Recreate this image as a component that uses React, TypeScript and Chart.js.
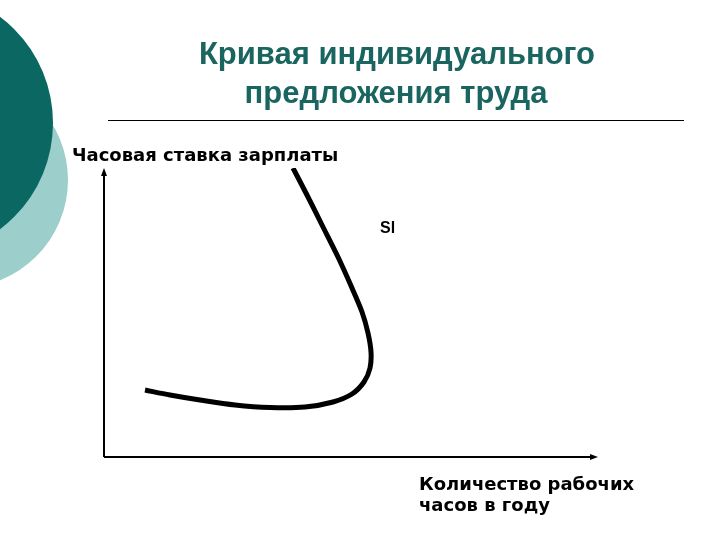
import React, { useEffect, useRef } from "react";
import { Chart, registerables } from "chart.js";

Chart.register(...registerables);

const titleLines = ["Кривая индивидуального", "предложения труда"];
const yAxisLabel = "Часовая ставка зарплаты";
const xAxisLabel = ["Количество рабочих", "часов в году"];
const curveLabel = "Sl";

// Labour supply curve (hours, wage) in relative units 0..100
const hours = [38.26, 41.09, 44.13, 47.37, 50.2, 52.23, 53.44, 54.05, 53.85, 52.63, 50.2, 46.36, 40.69, 33.6, 26.52, 19.43, 13.36, 8.3];
const wage = [100, 90.66, 80.28, 69.2, 58.48, 50.17, 42.91, 36.33, 30.8, 25.95, 21.8, 19.03, 17.3, 17.13, 17.99, 19.72, 21.45, 23.18];
const labelPos = { x: 57.4, y: 79.2 };

const decorPlugin = {
  id: "decor",
  beforeDraw(chart: any) {
    const ctx = chart.ctx as CanvasRenderingContext2D;
    ctx.save();
    ctx.fillStyle = "#ffffff";
    ctx.fillRect(0, 0, chart.width, chart.height);
    // decorative circles
    ctx.fillStyle = "#9ccfcc";
    ctx.beginPath();
    ctx.arc(-40, 180, 108, 0, Math.PI * 2);
    ctx.fill();
    ctx.fillStyle = "#0b6762";
    ctx.beginPath();
    ctx.arc(-80, 123, 133, 0, Math.PI * 2);
    ctx.fill();
    // title
    ctx.fillStyle = "#1a6560";
    ctx.font = "bold 31px 'Liberation Sans', Arial, sans-serif";
    ctx.textAlign = "center";
    ctx.textBaseline = "alphabetic";
    ctx.fillText(titleLines[0], 397, 64);
    ctx.fillText(titleLines[1], 396, 103);
    // separator line
    ctx.strokeStyle = "#000000";
    ctx.lineWidth = 1;
    ctx.beginPath();
    ctx.moveTo(108, 120.5);
    ctx.lineTo(684, 120.5);
    ctx.stroke();
    // axes
    const a = chart.chartArea;
    ctx.lineWidth = 2;
    ctx.beginPath();
    ctx.moveTo(a.left, a.bottom);
    ctx.lineTo(a.left, a.top + 4);
    ctx.moveTo(a.left, a.bottom);
    ctx.lineTo(a.right - 4, a.bottom);
    ctx.stroke();
    ctx.fillStyle = "#000000";
    ctx.beginPath();
    ctx.moveTo(a.left, a.top);
    ctx.lineTo(a.left - 3, a.top + 8);
    ctx.lineTo(a.left + 3, a.top + 8);
    ctx.closePath();
    ctx.fill();
    ctx.beginPath();
    ctx.moveTo(a.right, a.bottom);
    ctx.lineTo(a.right - 8, a.bottom - 3);
    ctx.lineTo(a.right - 8, a.bottom + 3);
    ctx.closePath();
    ctx.fill();
    // axis labels
    ctx.textAlign = "left";
    ctx.font = "bold 18px 'DejaVu Sans', Verdana, sans-serif";
    ctx.fillText(yAxisLabel, 72, 161);
    ctx.fillText(xAxisLabel[0], 419, 490);
    ctx.fillText(xAxisLabel[1], 419, 511);
    // curve label
    const xs = chart.scales.x;
    const ys = chart.scales.y;
    ctx.font = "bold 16px 'Liberation Sans', Arial, sans-serif";
    ctx.textAlign = "center";
    ctx.textBaseline = "middle";
    ctx.fillText(curveLabel, xs.getPixelForValue(labelPos.x), ys.getPixelForValue(labelPos.y));
    ctx.restore();
  },
};

export default function App() {
  const ref = useRef<HTMLCanvasElement | null>(null);
  useEffect(() => {
    if (!ref.current) return;
    const chart = new Chart(ref.current, {
      type: "scatter",
      data: {
        datasets: [
          {
            data: hours.map((h, i) => ({ x: h, y: wage[i] })),
            showLine: true,
            borderColor: "#000000",
            borderWidth: 5,
            pointRadius: 0,
            tension: 0.3,
            borderCapStyle: "butt",
            borderJoinStyle: "round",
          },
        ],
      },
      options: {
        animation: false,
        responsive: false,
        layout: { padding: { left: 104, right: 122, top: 168, bottom: 83 } },
        plugins: { legend: { display: false }, tooltip: { enabled: false }, title: { display: false } },
        scales: {
          x: { type: "linear", min: 0, max: 100, display: false },
          y: { type: "linear", min: 0, max: 100, display: false },
        },
      },
      plugins: [decorPlugin],
    });
    return () => chart.destroy();
  }, []);
  return (
    <div style={{ position: "fixed", left: 0, top: 0, width: 720, height: 540, background: "#fff" }}>
      <canvas ref={ref} width={720} height={540} style={{ width: 720, height: 540 }} />
    </div>
  );
}
